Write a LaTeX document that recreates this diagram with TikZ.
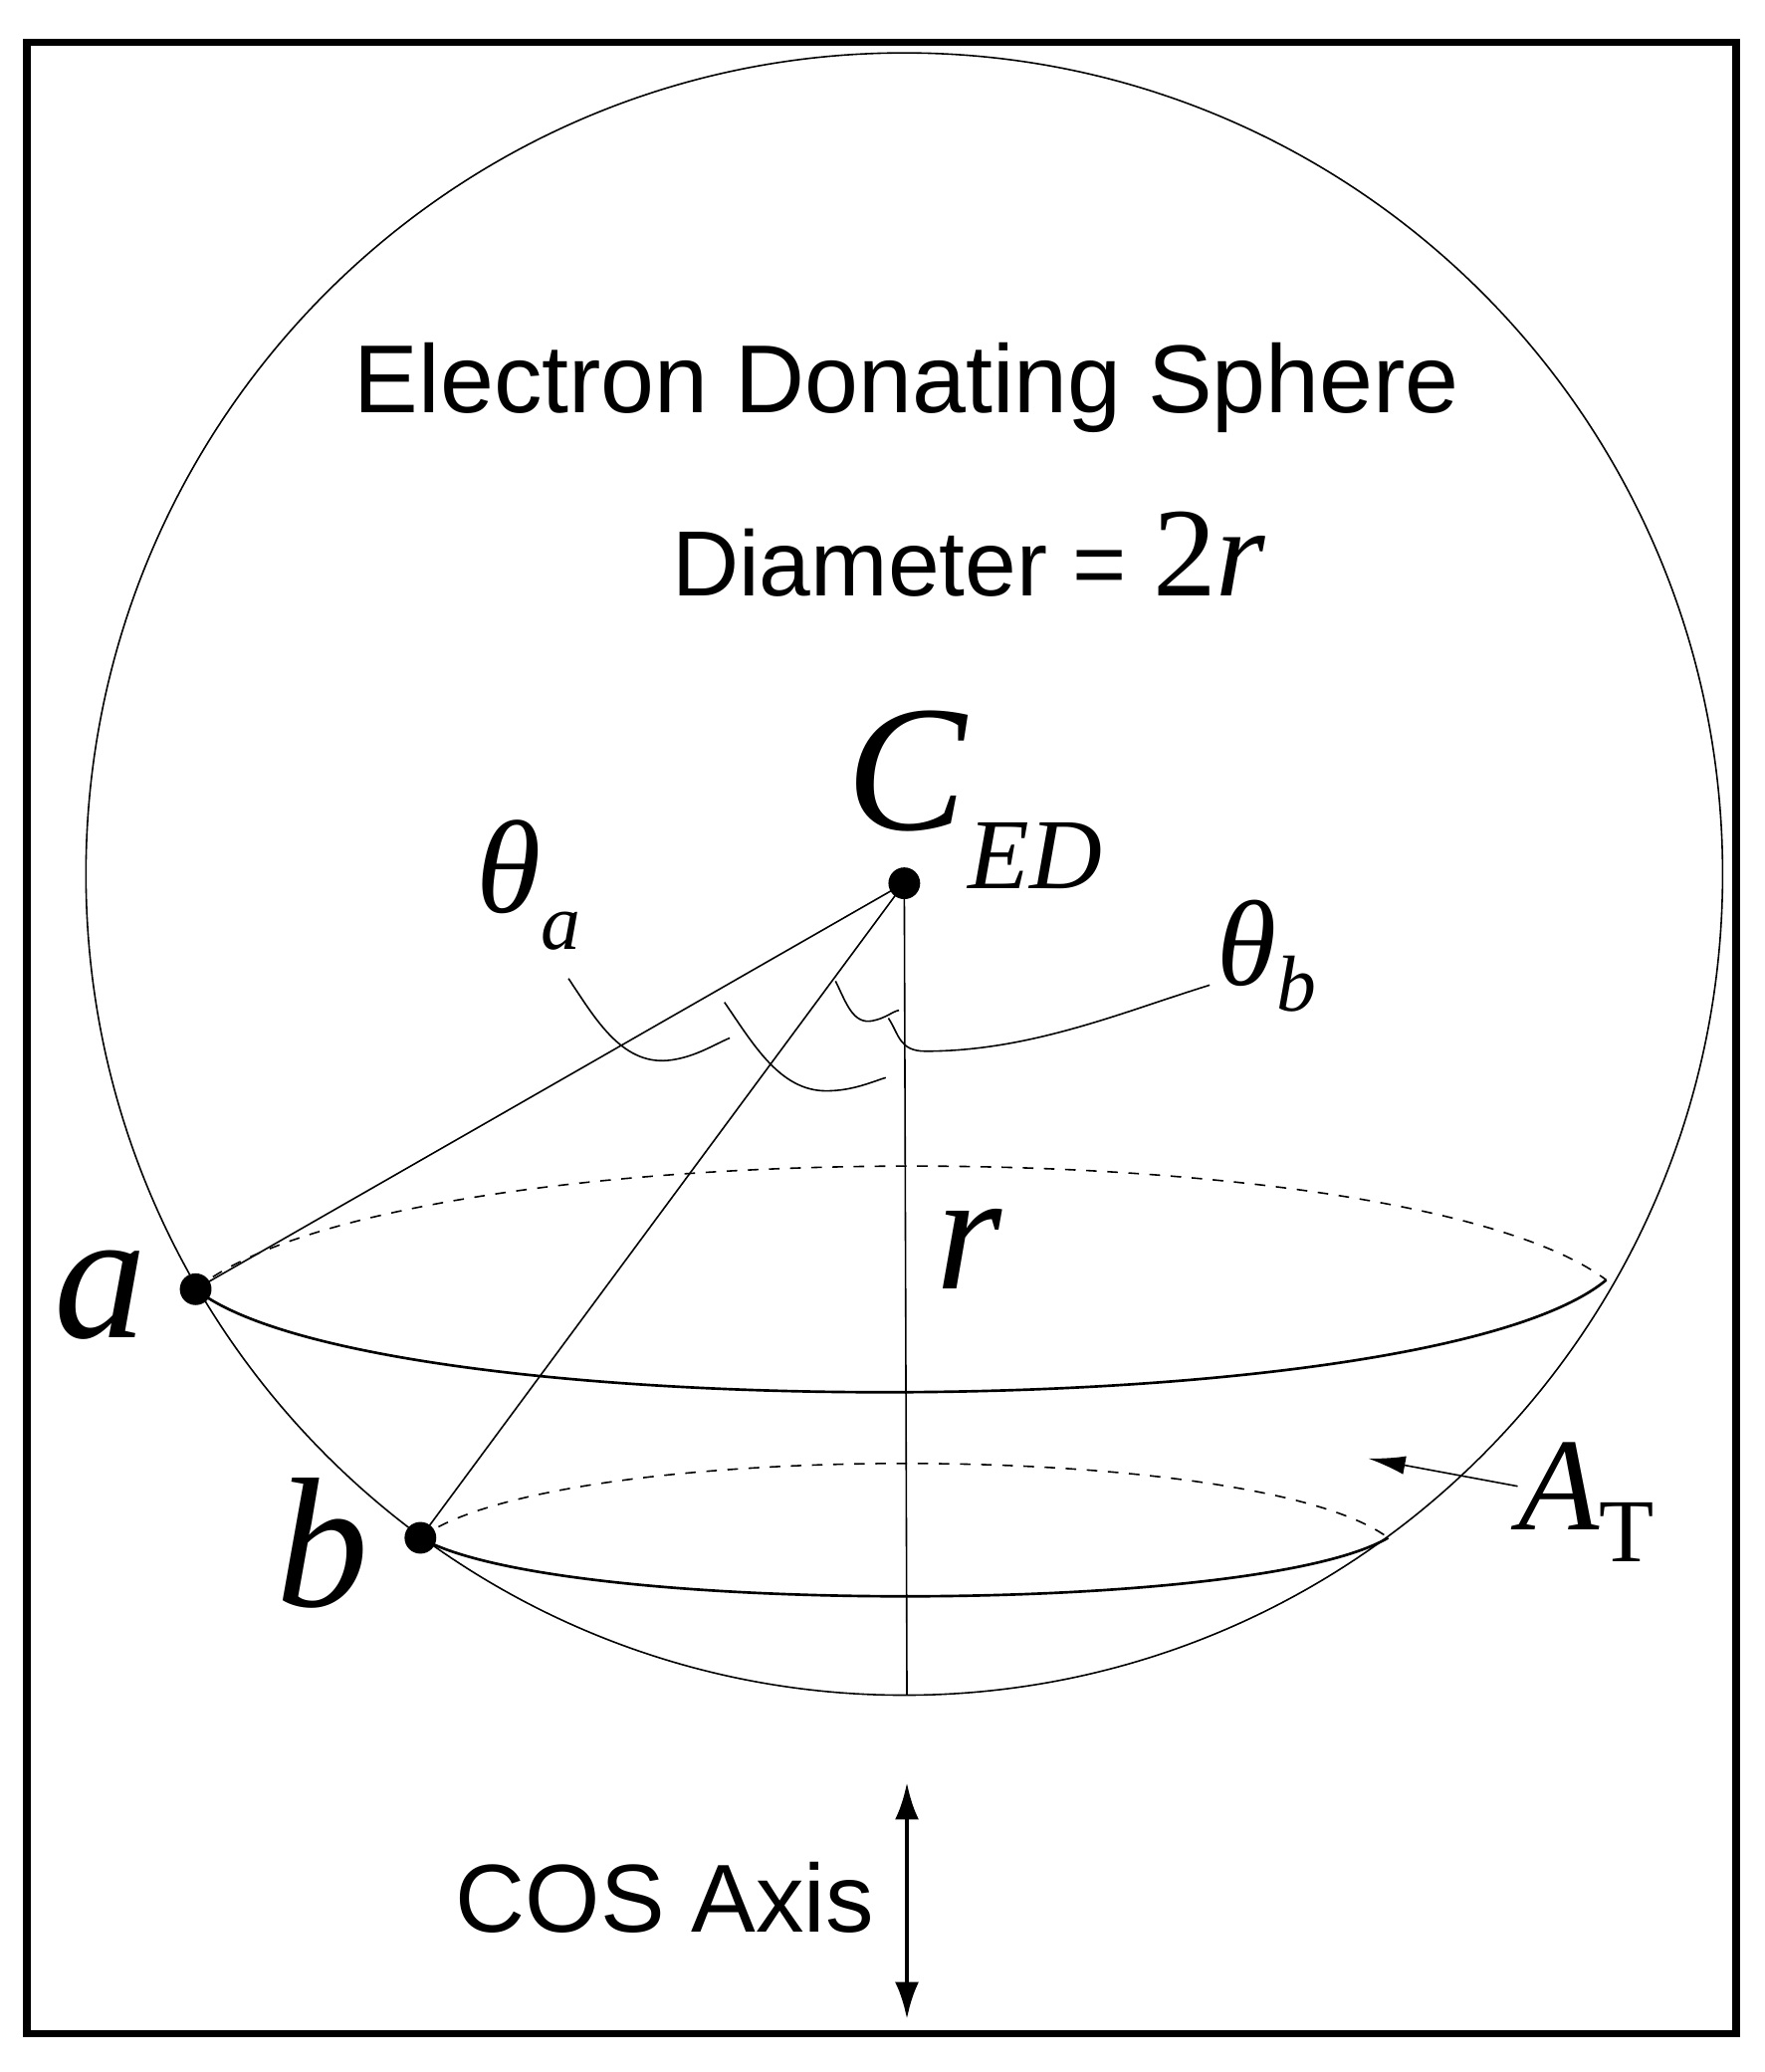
\documentclass[tikz,border=0pt]{standalone}
\usepackage{fontspec}
\setmainfont{Liberation Serif}
\newfontfamily\ssf{Liberation Sans}
\usetikzlibrary{arrows.meta}
\begin{document}
\begin{tikzpicture}[x=0.5pt,y=-0.5pt,
  lbl/.style={inner sep=0pt},
  dot/.style={circle,fill,inner sep=0pt,minimum size=12pt},
  thin line/.style={line width=0.6pt}]
\useasboundingbox (0,0) rectangle (1335,1567);
\draw[line width=3pt] (20,32) rectangle (1313,1538);
\draw[thin line] (684,661) ellipse [x radius=619, y radius=-621];
% nodes
\node[dot] (c) at (684,668) {};
\node[dot] (a) at (148,975) {};
\node[dot] (b) at (318,1163) {};
\coordinate (bot) at (686,1282);
\coordinate (ae) at (1215,968);
\coordinate (be) at (1050,1163);
\draw[thin line] (c.center) -- (a.center);
\draw[thin line] (c.center) -- (b.center);
\draw[thin line] (c.center) -- (bot);
% rings
\draw[thin line,dash pattern=on 4pt off 4pt] (a.center) .. controls (300,852) and (1060,852) .. (ae);
\draw[line width=1pt] (a.center) .. controls (280,1080) and (1080,1080) .. (ae);
\draw[thin line,dash pattern=on 4pt off 4pt] (b.center) .. controls (420,1088) and (950,1088) .. (be);
\draw[line width=1pt] (b.center) .. controls (420,1222) and (950,1222) .. (be);
% angle marks
\draw[thin line] (430,740) .. controls (450,770) and (470,805) .. (505,802) .. controls (525,800) and (540,790) .. (552,785);
\draw[thin line] (548,758) .. controls (570,790) and (590,825) .. (625,825) .. controls (645,825) and (660,818) .. (670,815);
\draw[thin line] (632,742) .. controls (640,758) and (645,775) .. (660,772) .. controls (670,770) and (675,765) .. (680,764);
\draw[thin line] (672,770) .. controls (680,782) and (680,795) .. (700,795) .. controls (780,795) and (850,765) .. (915,745);
% labels
\node[lbl] (t1) at (686,293) {\ssf\fontsize{36.5pt}{40pt}\selectfont Electron Donating Sphere};
\node[lbl,anchor=base west] (t2) at (508,451) {\ssf\fontsize{35pt}{40pt}\selectfont Diameter = \fontsize{48pt}{50pt}\rmfamily 2\textit{r}};
\node[lbl,anchor=base west] (cl) at (640,628) {\fontsize{68pt}{70pt}\selectfont\textit{C}\raisebox{-22pt}{\fontsize{38pt}{40pt}\selectfont\textit{ED}}};
\node[lbl,anchor=base west] (ta) at (360,690) {\fontsize{50pt}{54pt}\selectfont\textit{θ}\raisebox{-14pt}{\fontsize{30pt}{32pt}\selectfont\textit{a}}};
\node[lbl,anchor=base west] (tb) at (920,745) {\fontsize{46pt}{50pt}\selectfont\textit{θ}\raisebox{-10pt}{\fontsize{30pt}{32pt}\selectfont\textit{b}}};
\node[lbl,anchor=base] (r) at (733,975) {\fontsize{64pt}{68pt}\selectfont\textit{r}};
\node[lbl,anchor=base] (al) at (76,1012) {\fontsize{70pt}{74pt}\selectfont\textit{a}};
\node[lbl,anchor=base] (bl) at (244,1215) {\fontsize{70pt}{74pt}\selectfont\textit{b}};
\node[lbl,anchor=base west] (at) at (1148,1157) {\fontsize{50pt}{56pt}\selectfont\textit{A}\raisebox{-12pt}{\fontsize{34pt}{36pt}\selectfont T}};
\coordinate (atp) at (1035,1103);
\draw[thin line,-{Latex[length=14pt,width=7pt]}] (1148,1124) -- (atp);
\node[lbl] (cos) at (503,1435) {\ssf\fontsize{36.5pt}{40pt}\selectfont COS Axis};
\coordinate (u) at (686,1348);
\coordinate (d) at (686,1527);
\draw[line width=1.8pt,{Latex[length=14pt,width=9pt]}-{Latex[length=14pt,width=9pt]}] (u) -- (d);
\end{tikzpicture}
\end{document}
